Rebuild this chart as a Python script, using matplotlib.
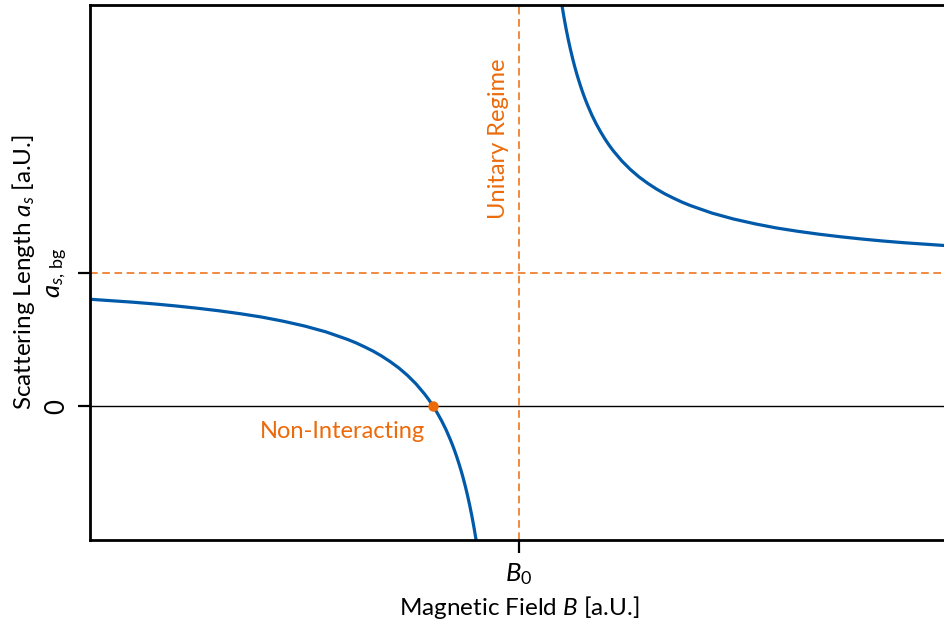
import matplotlib
matplotlib.use("Agg")
import matplotlib.pyplot as plt

plt.rcParams['font.family'] = ['Lato', 'DejaVu Sans']
plt.rcParams['mathtext.fontset'] = 'custom'
plt.rcParams['mathtext.rm'] = 'Lato'
plt.rcParams['mathtext.it'] = 'Lato:italic'
plt.rcParams['mathtext.bf'] = 'Lato:bold'

# Scattering length curve (B relative to B0, a_s in units of a_bg)
B_left = [-5.0, -4.75, -4.5, -4.25, -4.0, -3.75, -3.5, -3.25, -3.0, -2.75, -2.5, -2.25,
          -2.0, -1.9, -1.8, -1.7, -1.6, -1.5, -1.4, -1.3, -1.2, -1.1, -1.05,
          -1.0, -0.95, -0.9, -0.85, -0.8, -0.775, -0.75, -0.725, -0.7, -0.675,
          -0.65, -0.625, -0.6, -0.575, -0.55, -0.525, -0.5]
a_left = [0.800, 0.789, 0.778, 0.765, 0.750, 0.733, 0.714, 0.692, 0.667, 0.636, 0.600, 0.556,
          0.500, 0.474, 0.444, 0.412, 0.375, 0.333, 0.286, 0.231, 0.167, 0.091, 0.048,
          0.000, -0.053, -0.111, -0.176, -0.250, -0.290, -0.333, -0.379, -0.429, -0.481,
          -0.538, -0.600, -0.667, -0.739, -0.818, -0.905, -1.000]
B_right = [0.5, 0.525, 0.55, 0.575, 0.6, 0.625, 0.65, 0.675, 0.7, 0.725, 0.75, 0.775,
           0.8, 0.85, 0.9, 0.95, 1.0, 1.05, 1.1, 1.2, 1.3, 1.4, 1.5, 1.6, 1.7, 1.8, 1.9,
           2.0, 2.25, 2.5, 2.75, 3.0, 3.25, 3.5, 3.75, 4.0, 4.25, 4.5, 4.75, 5.0]
a_right = [3.000, 2.905, 2.818, 2.739, 2.667, 2.600, 2.538, 2.481, 2.429, 2.379, 2.333, 2.290,
           2.250, 2.176, 2.111, 2.053, 2.000, 1.952, 1.909, 1.833, 1.769, 1.714, 1.667, 1.625,
           1.588, 1.556, 1.526, 1.500, 1.444, 1.400, 1.364, 1.333, 1.308, 1.286, 1.267,
           1.250, 1.235, 1.222, 1.211, 1.200]

B0 = 0.0
a_bg = 1.0
B_zero = -1.0

x_ticks = [B0]
x_ticklabels = ['$B_0$']
y_ticks = [0.0, a_bg]
y_ticklabels = ['0', '$a_{s,\\,\\mathrm{bg}}$']

blue = '#005AA9'
orange = '#EC6A0A'

fig = plt.figure(figsize=(9.44, 6.26), dpi=100)
ax = fig.add_axes([90/944, (626-540)/626, 858/944, 535/626])

ax.axhline(0, color='black', lw=1.0, zorder=1)
ax.axvline(B0, color=orange, lw=1.1, ls=(0, (5, 3)), zorder=1)
ax.axhline(a_bg, color=orange, lw=1.1, ls=(0, (5, 3)), zorder=1)

ax.plot(B_left, a_left, color=blue, lw=2.3, zorder=2, solid_joinstyle='round')
ax.plot(B_right, a_right, color=blue, lw=2.3, zorder=2, solid_joinstyle='round')
ax.plot([B_zero], [0], 'o', color=orange, ms=6.5, zorder=3)

ax.text(B_zero - 0.09, -0.19, 'Non-Interacting', color=orange, fontsize=17,
        ha='right', va='center')
ax.text(B0 - 0.235, 2.0, 'Unitary Regime', color=orange, fontsize=17,
        rotation=90, ha='center', va='center')

ax.set_xlim(-5, 5)
ax.set_ylim(-1, 3)
ax.set_xticks(x_ticks)
ax.set_xticklabels(x_ticklabels)
ax.set_yticks(y_ticks)
ax.set_yticklabels(y_ticklabels, rotation=90, va='center')
ax.tick_params(axis='both', length=9, width=1.6, labelsize=18.5, pad=6)

for s in ax.spines.values():
    s.set_linewidth(2.0)

ax.set_xlabel('Magnetic Field $B$ [a.U.]', fontsize=17.5, labelpad=5)
ax.set_ylabel('Scattering Length $a_s$ [a.U.]', fontsize=17.5, labelpad=5)

fig.savefig('out.png', dpi=100)
